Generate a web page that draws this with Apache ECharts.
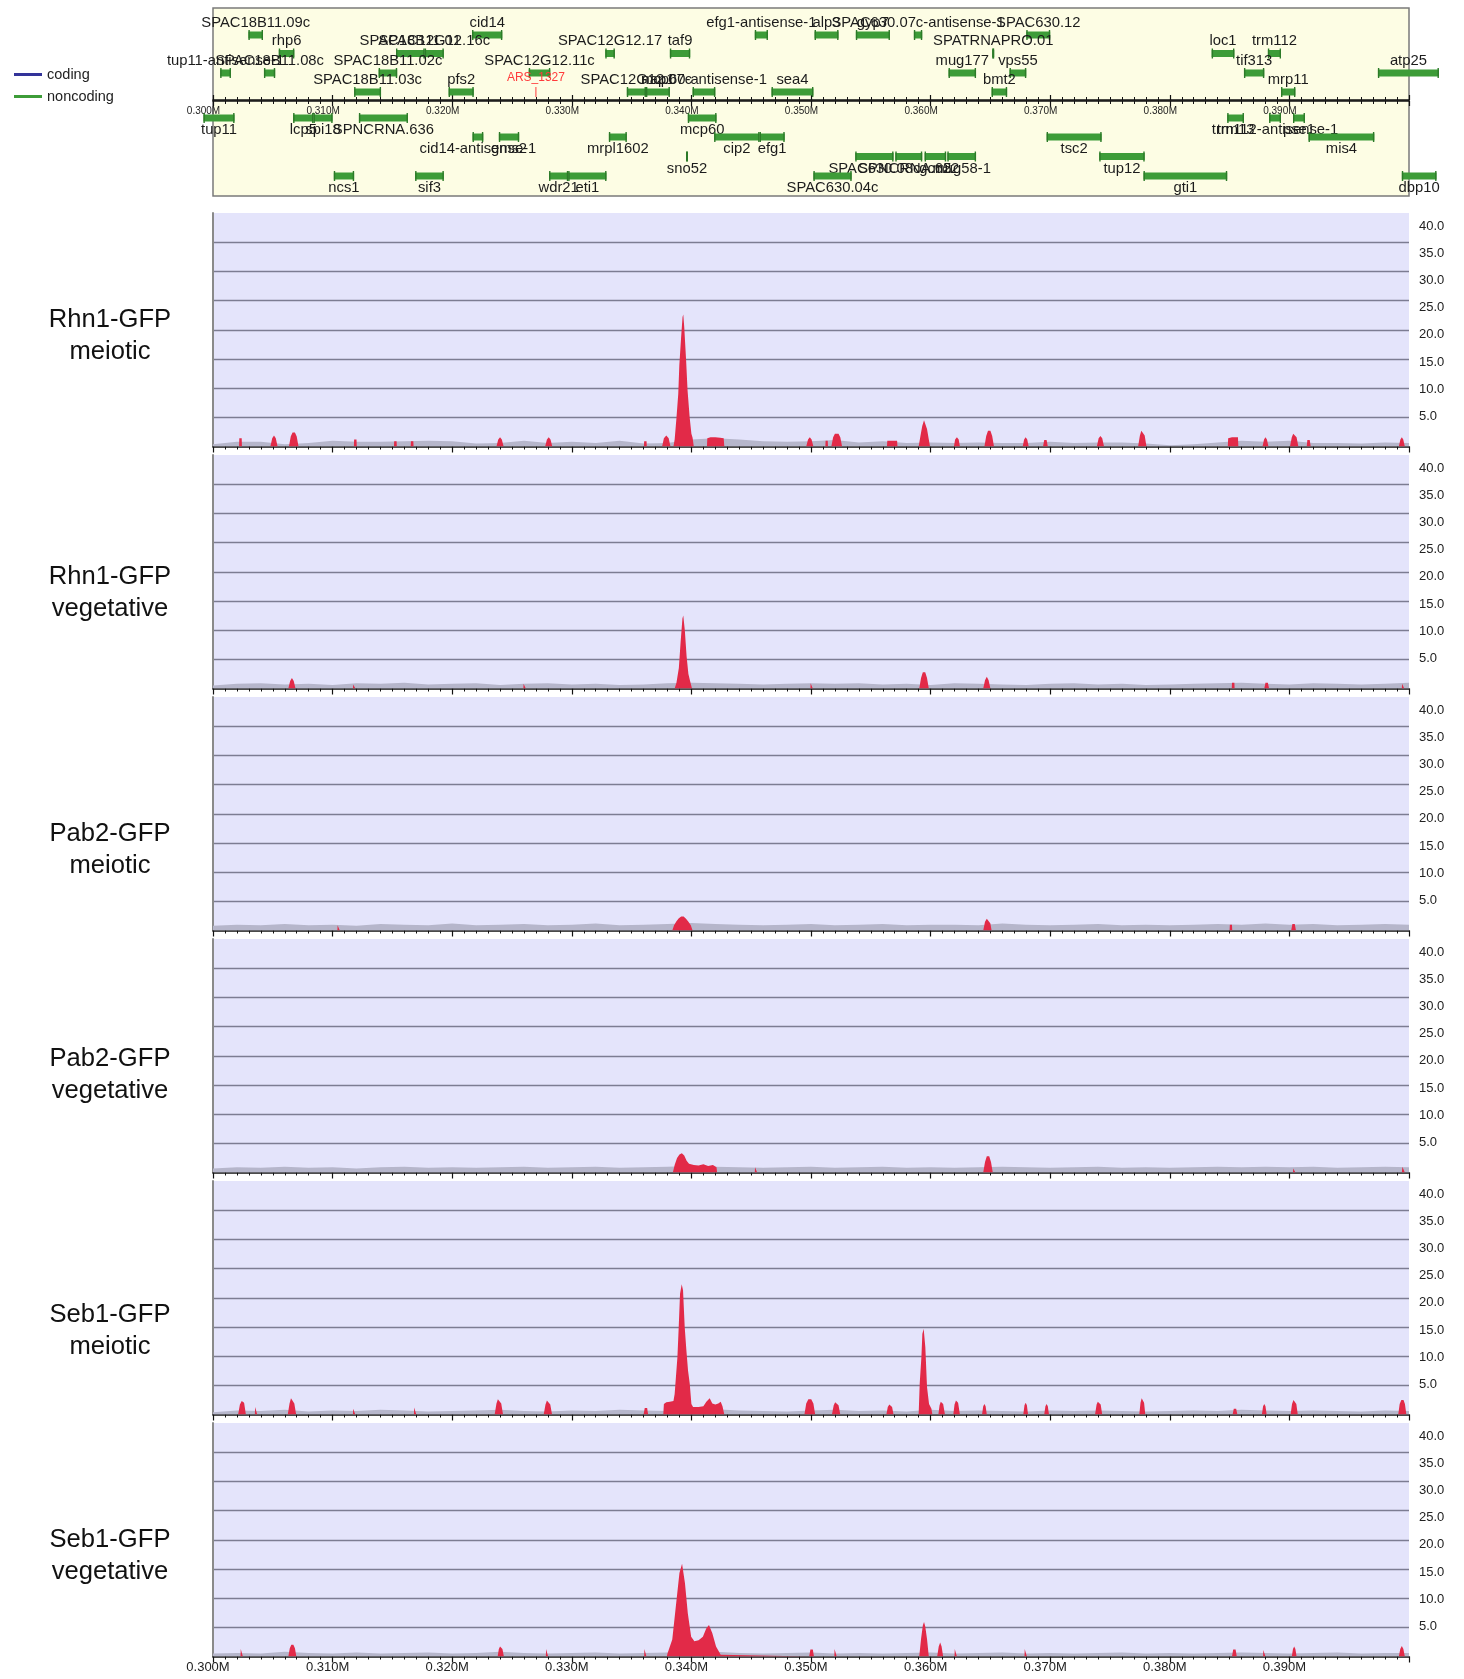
<!DOCTYPE html>
<html><head><meta charset="utf-8">
<script src="https://cdn.jsdelivr.net/npm/echarts@6/dist/echarts.min.js"></script>
<style>html,body{margin:0;padding:0;background:#fff}#c{width:1464px;height:1679px}</style>
</head><body><div id="c"></div>
<script>
// ---------------- DATA ----------------
const trackNames = ['Rhn1-GFP\nmeiotic','Rhn1-GFP\nvegetative','Pab2-GFP\nmeiotic','Pab2-GFP\nvegetative','Seb1-GFP\nmeiotic','Seb1-GFP\nvegetative'];
const yLabelValues = [5,10,15,20,25,30,35,40];
const legendNames = ['coding','noncoding'];

// genes (positions in kb); rows 1..4 above the ruler, -1..-4 below
const geneNames = ['SPAC18B11.09c','cid14','efg1-antisense-1','alp3','gyp7','SPAC630.07c-antisense-1','SPAC630.12',
 'rhp6','SPAC18B11.01','SPAC12G12.16c','SPAC12G12.17','taf9','SPATRNAPRO.01','loc1','trm112',
 'tup11-antisense-1','SPAC18B11.08c','SPAC18B11.02c','SPAC12G12.11c','mug177','vps55','tif313','atp25',
 'SPAC18B11.03c','pfs2','SPAC12G12.07c','nap1','mcp60-antisense-1','sea4','bmt2','mrp11',
 'tup11','lcp5','spi18','SPNCRNA.636','mcp60','trm13','trm112-antisense-1','pse1',
 'cid14-antisense-1','gms2','mrpl1602','cip2','efg1','tsc2','mis4',
 'sno52','SPAC630.08c','SPNCRNA.622','gcn5','mug58-1','tup12',
 'ncs1','sif3','wdr21','eti1','SPAC630.04c','gti1','dbp10'];
const geneStarts = [302.96,321.66,345.3,350.3,353.75,358.6,368.0,
 305.5,315.3,317.7,332.8,338.2,365.15,383.5,388.2,
 300.6,304.26,313.85,326.4,361.5,366.6,386.2,397.4,
 311.8,319.7,334.6,336.2,340.1,346.7,365.1,389.3,
 299.2,306.7,308.4,312.2,339.7,384.8,388.3,390.3,
 321.7,323.9,333.1,341.9,345.7,369.7,391.6,
 339.55,353.7,357.05,359.5,361.4,374.1,
 310.1,316.9,328.1,329.7,350.2,377.8,399.4];
const geneEnds = [304.18,324.19,346.4,352.3,356.6,359.3,370.0,
 306.8,317.7,319.3,333.6,339.9,365.3,385.4,389.3,
 301.5,305.2,315.4,328.2,363.8,368.0,387.9,402.5,
 314.05,321.8,336.2,338.2,342.0,350.2,366.4,390.5,
 301.8,308.4,310.0,316.3,342.1,386.2,389.3,391.3,
 322.6,325.6,334.6,345.7,347.8,374.3,397.1,
 339.7,356.9,359.3,361.3,363.8,377.9,
 311.8,319.3,329.7,332.9,353.4,384.8,402.3];
const geneRows = [1,1,1,1,1,1,1,
 2,2,2,2,2,2,2,2,
 3,3,3,3,3,3,3,3,
 4,4,4,4,4,4,4,4,
 -1,-1,-1,-1,-1,-1,-1,-1,
 -2,-2,-2,-2,-2,-2,-2,
 -3,-3,-3,-3,-3,-3,
 -4,-4,-4,-4,-4,-4,-4];
const arsNames = ['ARS_1327'];
const arsPos = [327.0];
const arsRows = [4];

// background signal (grey), one value per 2 kb bin from 300 kb
const binStart = 300, binStep = 2;
const greyRhn1Meiotic = [0.4,0.8,0.8,0.4,0.6,1.0,0.8,0.8,0.9,1.0,0.9,0.5,0.6,1.0,0.6,0.8,0.6,1.0,0.5,0.6,1.2,1.4,1.2,0.9,0.8,0.9,1.1,0.7,0.9,0.6,0.7,0.6,0.7,0.6,0.6,0.8,0.6,0.7,0.7,0.5,0.2,0.4,0.7,1.0,0.8,1.0,0.6,0.6,0.5,0.7,0.6];
const greyRhn1Veg = [0.5,0.8,0.9,0.7,0.8,0.6,0.9,0.8,1.0,0.7,0.8,0.9,0.6,0.8,0.9,0.7,0.8,0.6,0.7,0.9,1.0,0.9,0.8,0.7,0.8,0.9,0.8,0.9,0.7,0.8,0.6,0.9,0.8,0.7,0.6,0.8,0.9,0.7,0.8,0.6,0.7,0.8,0.9,1.0,0.8,0.7,0.9,0.8,0.7,0.8,1.0];
const greyPab2Meiotic = [0.8,1.0,0.9,1.1,0.9,1.0,0.8,1.1,1.0,0.9,1.2,0.9,1.0,1.1,0.9,1.0,1.2,0.9,1.0,1.1,1.3,1.1,1.0,0.9,1.0,1.1,0.9,1.0,1.1,0.9,1.0,1.0,0.9,1.2,1.0,0.9,1.0,1.1,0.9,1.0,0.9,1.0,1.1,1.0,1.2,1.0,1.1,0.9,1.0,1.1,1.0];
const greyPab2Veg = [0.7,0.9,0.8,1.0,0.8,0.9,0.7,0.9,1.0,0.8,0.9,0.8,0.9,1.0,0.8,0.9,1.0,0.8,0.9,1.0,1.1,1.0,0.9,0.8,0.9,1.0,0.8,0.9,1.0,0.8,0.9,0.8,0.9,1.0,0.9,0.8,0.9,1.0,0.8,0.9,0.8,0.9,1.0,0.9,1.0,0.9,1.0,0.8,0.9,1.0,0.9];
const greySeb1Meiotic = [0.4,0.7,0.6,0.8,0.5,0.7,0.6,0.8,0.7,0.5,0.6,0.7,0.8,0.6,0.5,0.7,0.6,0.8,0.7,0.6,1.0,0.9,0.7,0.6,0.5,0.7,0.8,0.6,0.7,0.5,0.8,0.6,0.7,0.6,0.5,0.7,0.6,0.7,0.6,0.5,0.6,0.7,0.6,0.8,0.7,0.6,0.7,0.6,0.5,0.7,0.6];
const greySeb1Veg = [0.5,0.6,0.5,0.8,0.6,0.5,0.7,0.5,0.6,0.7,0.5,0.6,0.8,0.6,0.5,0.6,0.7,0.5,0.6,0.7,1.0,0.8,0.6,0.5,0.6,0.7,0.5,0.6,0.5,0.6,0.7,0.5,0.6,0.7,0.5,0.6,0.5,0.6,0.7,0.5,0.6,0.5,0.6,0.7,0.6,0.5,0.6,0.7,0.5,0.6,0.6];

// enriched signal (red) as [kb, value] points
const redRhn1Meiotic = [
 [302.18,0],[302.2,1.4],[302.4,1.4],[302.42,0],
 [304.8,0],[304.95,1.4],[305.1,1.9],[305.25,1.4],[305.4,0],
 [306.35,0],[306.5,1.7],[306.65,2.4],[306.75,2.6],[306.85,2.4],[307.0,1.7],[307.15,0],
 [311.78,0],[311.8,1.2],[312.0,1.2],[312.02,0],
 [315.13,0],[315.15,0.9],[315.35,0.9],[315.37,0],
 [316.53,0],[316.55,0.9],[316.75,0.9],[316.77,0],
 [323.7,0],[323.85,1.2],[324.0,1.6],[324.15,1.2],[324.3,0],
 [327.77,0],[327.92,1.2],[328.07,1.6],[328.22,1.2],[328.37,0],
 [336.03,0],[336.05,0.9],[336.25,0.9],[336.27,0],
 [337.55,0],[337.7,1.4],[337.9,1.9],[338.1,1.4],[338.25,0],
 [338.5,0],[338.6,1.2],[338.75,4.9],[338.9,9.0],[338.99,13.9],[339.14,18.7],[339.26,22.2],[339.32,22.6],[339.4,20.5],[339.56,14.7],[339.68,9.6],[339.86,4.9],[340.0,2.2],[340.1,1.5],[340.2,0],
 [341.3,0],[341.33,1.4],[341.6,1.6],[342.0,1.6],[342.4,1.5],[342.7,1.4],[342.75,0],
 [349.6,0],[349.75,1.2],[349.9,1.6],[350.05,1.2],[350.2,0],
 [351.2,0],[351.22,1.0],[351.4,1.0],[351.42,0],
 [351.7,0],[351.85,1.6],[352.0,2.2],[352.15,2.4],[352.3,2.2],[352.45,1.6],[352.6,0],
 [356.35,0],[356.38,1.0],[357.2,1.0],[357.23,0],
 [359.0,0],[359.15,1.8],[359.3,3.5],[359.45,4.5],[359.55,4.3],[359.7,3.0],[359.85,1.2],[359.95,0],
 [361.95,0],[362.05,1.2],[362.2,1.6],[362.35,1.2],[362.45,0],
 [364.5,0],[364.65,1.8],[364.8,2.7],[364.9,3.0],[365.0,2.7],[365.15,1.8],[365.3,0],
 [367.7,0],[367.82,1.2],[367.95,1.6],[368.08,1.2],[368.2,0],
 [369.4,0],[369.5,1.1],[369.6,1.4],[369.7,1.1],[369.8,0],
 [373.9,0],[374.05,1.4],[374.2,1.8],[374.35,1.4],[374.5,0],
 [377.35,0],[377.5,1.9],[377.62,2.7],[377.7,2.9],[377.78,2.7],[377.9,1.9],[378.05,0],
 [384.85,0],[384.88,1.4],[385.2,1.6],[385.7,1.6],[385.73,0],
 [387.75,0],[387.88,1.2],[388.0,1.6],[388.12,1.2],[388.25,0],
 [390.05,0],[390.2,1.6],[390.32,2.2],[390.4,2.3],[390.48,2.2],[390.6,1.6],[390.75,0],
 [391.45,0],[391.5,1.1],[391.6,1.4],[391.7,1.1],[391.78,0],
 [399.15,0],[399.28,1.2],[399.4,1.6],[399.52,1.2],[399.65,0]];
const redRhn1Veg = [
 [306.3,0],[306.45,1.3],[306.6,1.8],[306.75,1.3],[306.9,0],
 [311.7,0],[311.72,0.7],[311.88,0.7],[311.9,0],
 [325.95,0],[325.97,0.8],[326.13,0.8],[326.15,0],
 [338.6,0],[338.75,1.0],[338.95,3.5],[339.1,8.0],[339.25,12.0],[339.32,12.5],[339.45,10.0],[339.6,5.5],[339.75,2.5],[339.9,1.2],[340.05,0],
 [349.95,0],[349.97,0.9],[350.13,0.9],[350.15,0],
 [359.05,0],[359.2,1.8],[359.35,2.8],[359.45,3.1],[359.55,2.8],[359.7,1.8],[359.85,0],
 [364.4,0],[364.55,1.4],[364.7,2.0],[364.85,1.4],[365.0,0],
 [385.18,0],[385.2,1.0],[385.4,1.0],[385.42,0],
 [387.9,0],[388.0,1.0],[388.1,1.2],[388.2,1.0],[388.3,0],
 [399.4,0],[399.42,0.8],[399.58,0.8],[399.6,0]];
const redPab2Meiotic = [
 [310.4,0],[310.42,0.9],[310.58,0.9],[310.6,0],
 [338.4,0],[338.55,0.9],[338.75,1.6],[338.95,2.1],[339.15,2.4],[339.35,2.4],[339.55,2.0],[339.75,1.5],[339.95,0.9],[340.1,0],
 [364.4,0],[364.55,1.5],[364.7,2.0],[364.85,1.8],[365.0,1.2],[365.1,0],
 [385.0,0],[385.02,1.0],[385.2,1.0],[385.22,0],
 [390.15,0],[390.25,1.1],[390.35,1.4],[390.45,1.1],[390.55,0]];
const redPab2Veg = [
 [338.45,0],[338.6,1.3],[338.8,2.5],[339.0,3.1],[339.2,3.3],[339.4,2.9],[339.6,2.0],[339.8,1.5],[340.2,1.3],[340.6,1.2],[341.0,1.4],[341.4,1.1],[341.8,1.3],[342.1,0.9],[342.15,0],
 [345.3,0],[345.32,0.9],[345.48,0.9],[345.5,0],
 [364.4,0],[364.55,1.8],[364.7,2.8],[364.8,3.1],[364.9,2.8],[365.05,1.8],[365.2,0],
 [390.3,0],[390.32,0.7],[390.48,0.7],[390.5,0],
 [399.4,0],[399.45,1.0],[399.55,1.2],[399.65,0]];
const redSeb1Meiotic = [
 [302.1,0],[302.25,1.7],[302.4,2.3],[302.5,2.4],[302.6,2.0],[302.75,0],
 [303.5,0],[303.52,1.3],[303.68,1.3],[303.7,0],
 [306.25,0],[306.4,1.9],[306.52,2.8],[306.6,3.1],[306.68,2.8],[306.8,1.9],[306.95,0],
 [311.7,0],[311.72,1.0],[311.88,1.0],[311.9,0],
 [316.8,0],[316.82,1.2],[316.98,1.2],[317.0,0],
 [323.55,0],[323.7,1.9],[323.82,2.6],[323.9,2.9],[323.98,2.6],[324.1,1.9],[324.25,0],
 [327.65,0],[327.8,1.7],[327.92,2.4],[328.0,2.6],[328.08,2.4],[328.2,1.7],[328.35,0],
 [336.0,0],[336.1,1.1],[336.2,1.4],[336.3,1.1],[336.38,0],
 [337.65,0],[337.7,1.8],[337.9,2.1],[338.2,2.2],[338.5,2.3],[338.6,3.5],[338.83,9.8],[338.94,15.0],[339.05,20.7],[339.19,22.3],[339.3,21.3],[339.44,15.0],[339.58,11.0],[339.72,7.5],[339.86,5.3],[340.0,1.8],[340.14,1.3],[340.6,1.3],[341.0,1.4],[341.25,2.2],[341.53,2.8],[341.75,1.9],[342.0,1.7],[342.25,1.9],[342.45,2.2],[342.6,1.4],[342.75,0],
 [349.45,0],[349.6,1.9],[349.78,2.6],[349.9,2.8],[350.02,2.6],[350.2,1.9],[350.35,0],
 [351.75,0],[351.9,1.6],[352.02,2.1],[352.1,2.3],[352.18,2.1],[352.3,1.6],[352.45,0],
 [356.3,0],[356.42,1.3],[356.55,1.7],[356.65,1.7],[356.78,1.3],[356.9,0],
 [359.0,0],[359.09,5.3],[359.23,9.8],[359.31,13.8],[359.42,14.7],[359.56,11.5],[359.7,4.7],[359.87,1.8],[360.07,1.0],[360.15,0],
 [360.65,0],[360.75,1.6],[360.85,2.2],[360.95,2.3],[361.05,1.8],[361.2,0],
 [361.9,0],[362.0,1.7],[362.12,2.4],[362.2,2.5],[362.3,2.0],[362.45,0],
 [364.3,0],[364.4,1.4],[364.5,1.8],[364.6,1.4],[364.7,0],
 [367.75,0],[367.85,1.6],[367.95,2.0],[368.05,1.6],[368.15,0],
 [369.5,0],[369.6,1.4],[369.7,1.8],[369.8,1.4],[369.9,0],
 [373.75,0],[373.88,1.7],[373.98,2.2],[374.05,2.4],[374.12,2.2],[374.22,1.7],[374.35,0],
 [377.45,0],[377.55,2.0],[377.65,2.8],[377.7,3.0],[377.75,2.8],[377.85,2.0],[377.95,0],
 [385.25,0],[385.35,1.0],[385.45,1.2],[385.55,1.0],[385.65,0],
 [387.7,0],[387.8,1.4],[387.9,1.8],[388.0,1.4],[388.1,0],
 [390.1,0],[390.22,1.8],[390.34,2.5],[390.4,2.6],[390.46,2.5],[390.58,1.8],[390.7,0],
 [399.1,0],[399.22,1.8],[399.36,2.5],[399.45,2.6],[399.54,2.5],[399.66,1.8],[399.78,0]];
const redSeb1Veg = [
 [302.3,0],[302.32,1.3],[302.48,1.3],[302.5,0],
 [306.3,0],[306.42,1.4],[306.55,2.0],[306.63,2.1],[306.72,2.0],[306.85,1.4],[306.97,0],
 [323.8,0],[323.9,1.3],[324.0,1.7],[324.1,1.7],[324.2,1.3],[324.32,0],
 [327.83,0],[327.85,1.3],[328.0,1.3],[328.02,0],
 [336.05,0],[336.07,1.3],[336.22,1.3],[336.24,0],
 [337.95,0],[338.0,0.5],[338.4,2.9],[338.79,10.3],[339.0,14.3],[339.22,15.9],[339.46,12.6],[339.7,7.4],[339.98,3.4],[340.25,2.6],[340.6,2.8],[340.96,3.4],[341.24,4.8],[341.47,5.4],[341.75,4.0],[342.06,1.7],[342.45,0.3],[342.5,0],
 [349.85,0],[349.95,1.2],[350.05,1.5],[350.15,1.2],[350.25,0],
 [351.95,0],[351.97,1.3],[352.13,1.3],[352.15,0],
 [359.05,0],[359.2,3.0],[359.35,5.3],[359.45,5.9],[359.55,5.2],[359.7,3.0],[359.85,0],
 [360.55,0],[360.68,1.7],[360.8,2.4],[360.92,1.7],[361.05,0],
 [362.0,0],[362.02,1.3],[362.18,1.3],[362.2,0],
 [367.85,0],[367.87,1.3],[368.03,1.3],[368.05,0],
 [385.2,0],[385.3,1.2],[385.4,1.5],[385.5,1.2],[385.6,0],
 [387.8,0],[387.82,1.1],[387.98,1.1],[388.0,0],
 [390.2,0],[390.3,1.3],[390.4,1.7],[390.5,1.3],[390.6,0],
 [399.15,0],[399.27,1.3],[399.4,1.8],[399.53,1.3],[399.65,0]];

const greyTracks = [greyRhn1Meiotic, greyRhn1Veg, greyPab2Meiotic, greyPab2Veg, greySeb1Meiotic, greySeb1Veg];
const redTracks = [redRhn1Meiotic, redRhn1Veg, redPab2Meiotic, redPab2Veg, redSeb1Meiotic, redSeb1Veg];

// ---------------- LAYOUT / STYLE ----------------
const FONT = '"Liberation Sans", Arial, Helvetica, sans-serif';
const PLOT_L = 213, PLOT_W = 1196;
const X_MIN = 300, X_MAX = 400;
const TRACK_TOP0 = 213, TRACK_STEP = 242, TRACK_H = 233.5;
const LABEL_Y = [336, 593, 850, 1075, 1331, 1556]; // vertical centres of the track names
const GREEN = '#3d9c38', BLUE = '#333399', RED = '#e22a48', GREY = '#b6b6cb';
const ROW_Y = {1:35, 2:53.5, 3:73, 4:92, '-1':118, '-2':137, '-3':156.5, '-4':176};
const GENE_TOP = 8, GENE_H = 188;

const fmtM = v => (v/1000).toFixed(3) + 'M';

const grids = [
  {left: PLOT_L, top: GENE_TOP, width: PLOT_W, height: GENE_H, show: true, backgroundColor: '#fdfde4', borderColor: '#7a7a7a', borderWidth: 1.5},
  {left: PLOT_L, top: 100, width: PLOT_W, height: 1}
];
const xAxes = [
  {gridIndex: 0, type: 'value', min: X_MIN, max: X_MAX, show: false},
  {gridIndex: 1, type: 'value', position: 'bottom', min: X_MIN, max: X_MAX, interval: 10,
   axisLine: {onZero: false, lineStyle: {color: '#111', width: 1.5}},
   axisTick: {length: 5, lineStyle: {color: '#111', width: 1.2}},
   minorTick: {show: true, splitNumber: 10, length: 3, lineStyle: {color: '#111', width: 1}},
   splitLine: {show: false},
   axisLabel: {formatter: fmtM, fontSize: 10, fontFamily: FONT, color: '#222', margin: 5, padding: [0, 19, 0, 0], showMaxLabel: false}},
  {gridIndex: 1, type: 'value', position: 'top', min: X_MIN, max: X_MAX, interval: 10,
   axisLine: {onZero: false, lineStyle: {color: '#111', width: 1.5}},
   axisTick: {length: 5, lineStyle: {color: '#111', width: 1.2}},
   minorTick: {show: true, splitNumber: 10, length: 3, lineStyle: {color: '#111', width: 1}},
   splitLine: {show: false}, axisLabel: {show: false}}
];
const yAxes = [
  {gridIndex: 0, type: 'value', min: 0, max: GENE_H, inverse: true, show: false},
  {gridIndex: 1, type: 'value', min: 0, max: 1, show: false}
];
const series = [];
const graphics = [];

// label axis scale (labels are spaced slightly tighter than the grid lines)
const LAB_MIN = -0.59, LAB_MAX = 42.47;

trackNames.forEach((name, i) => {
  const top = TRACK_TOP0 + TRACK_STEP * i;
  const gi = grids.length;
  grids.push({left: PLOT_L, top: top, width: PLOT_W, height: TRACK_H, show: true, backgroundColor: '#e4e4fb', borderWidth: 0});
  const last = i === trackNames.length - 1;
  const xi = xAxes.length;
  xAxes.push({gridIndex: gi, type: 'value', min: X_MIN, max: X_MAX, interval: 10,
    axisLine: {lineStyle: {color: '#111', width: 1.5}},
    axisTick: {length: 6, lineStyle: {color: '#111', width: 1.2}},
    minorTick: {show: true, splitNumber: 10, length: 3, lineStyle: {color: '#111', width: 1}},
    splitLine: {show: false},
    axisLabel: {show: last, formatter: fmtM, fontSize: 13, fontFamily: FONT, color: '#222', margin: 4, padding: [0, 10, 0, 0], showMaxLabel: false}});
  const yi = yAxes.length;
  yAxes.push({gridIndex: gi, type: 'value', min: 0, max: 40, interval: 5, position: 'left',
    axisLine: {show: true, lineStyle: {color: '#8a8a8a', width: 2}},
    axisTick: {show: false}, axisLabel: {show: false},
    splitLine: {show: true, showMinLine: false, showMaxLine: false, lineStyle: {color: '#7c7c92', width: 1.3}}});
  yAxes.push({gridIndex: gi, type: 'value', min: LAB_MIN, max: LAB_MAX, position: 'right',
    axisLine: {show: false}, axisTick: {show: false}, splitLine: {show: false},
    axisLabel: {show: true, customValues: yLabelValues, formatter: v => Number(v).toFixed(1), fontSize: 13, fontFamily: FONT, color: '#222', margin: 10}});
  series.push({type: 'line', xAxisIndex: xi, yAxisIndex: yi, symbol: 'none', silent: true,
    data: greyTracks[i].map((v, k) => [binStart + binStep * k, v]),
    lineStyle: {width: 0}, areaStyle: {color: GREY, opacity: 1}, z: 2});
  series.push({type: 'line', xAxisIndex: xi, yAxisIndex: yi, symbol: 'none', silent: true,
    data: redTracks[i],
    lineStyle: {width: 0}, areaStyle: {color: RED, opacity: 1}, z: 3});
  graphics.push({type: 'text', x: 110, y: LABEL_Y[i], z: 10,
    style: {text: name, font: '25.6px ' + FONT, fill: '#111', align: 'center', verticalAlign: 'middle', lineHeight: 32}});
});

// genes
series.push({
  name: 'noncoding', type: 'custom', xAxisIndex: 0, yAxisIndex: 0, clip: false, silent: true,
  itemStyle: {color: GREEN}, z: 5,
  data: geneStarts.map((s, i) => [s, geneEnds[i]]),
  renderItem: function (params, api) {
    const i = params.dataIndex;
    const x1 = api.coord([geneStarts[i], 0])[0];
    const x2 = api.coord([geneEnds[i], 0])[0];
    const row = geneRows[i];
    const y = ROW_Y[row];
    const w = Math.max(x2 - x1, 2);
    const ly = row > 0 ? y - 12.5 : y + 12;
    return {type: 'group', children: [
      {type: 'rect', shape: {x: x1, y: y - 3.5, width: w, height: 7}, style: {fill: GREEN}},
      {type: 'line', shape: {x1: x1 + 0.7, y1: y - 5, x2: x1 + 0.7, y2: y + 5}, style: {stroke: '#2c7a28', lineWidth: 1.4}},
      {type: 'line', shape: {x1: x1 + w - 0.7, y1: y - 5, x2: x1 + w - 0.7, y2: y + 5}, style: {stroke: '#2c7a28', lineWidth: 1.4}},
      {type: 'text', style: {text: geneNames[i], x: x1 + w / 2, y: ly, align: 'center', verticalAlign: 'middle', font: '14.8px ' + FONT, fill: '#1c1c1c'}}
    ]};
  }
});
series.push({
  type: 'custom', xAxisIndex: 0, yAxisIndex: 0, clip: false, silent: true, z: 5,
  data: arsPos.map(p => [p, 0]),
  renderItem: function (params, api) {
    const i = params.dataIndex;
    const x = api.coord([arsPos[i], 0])[0];
    const y = ROW_Y[arsRows[i]];
    return {type: 'group', children: [
      {type: 'line', shape: {x1: x, y1: y - 5, x2: x, y2: y + 5}, style: {stroke: '#ff3b3b', lineWidth: 1}},
      {type: 'text', style: {text: arsNames[i], x: x, y: y - 14, align: 'center', verticalAlign: 'middle', font: '12px ' + FONT, fill: '#ff3b3b'}}
    ]};
  }
});
series.push({name: 'coding', type: 'line', xAxisIndex: 0, yAxisIndex: 0, data: [], itemStyle: {color: BLUE}, lineStyle: {color: BLUE}});

const option = {
  animation: false,
  backgroundColor: '#ffffff',
  legend: {data: legendNames.map(n => ({name: n, icon: 'rect'})), orient: 'vertical', left: 9, top: 62,
    itemWidth: 28, itemHeight: 3, itemGap: 7, selectedMode: false,
    textStyle: {fontSize: 14.5, fontFamily: FONT, color: '#222'}},
  grid: grids, xAxis: xAxes, yAxis: yAxes, series: series, graphic: graphics
};
const chart = echarts.init(document.getElementById('c'), null, {width: 1464, height: 1679});
chart.setOption(option);
</script></body></html>
